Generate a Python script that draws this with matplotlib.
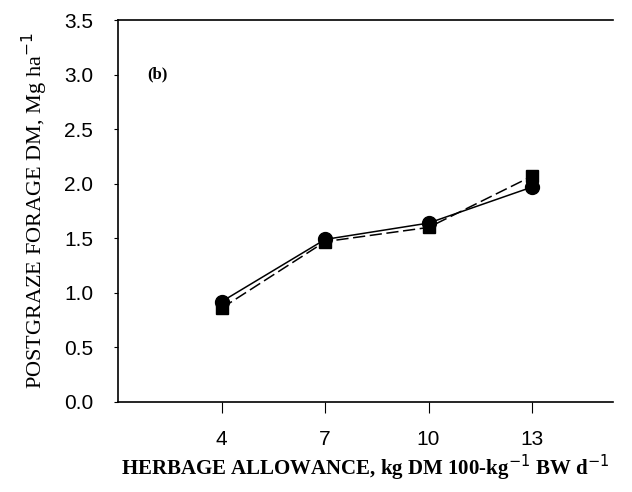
import matplotlib
matplotlib.use("Agg")
import matplotlib.pyplot as plt

# herbage allowance levels
allowance = [4, 7, 10, 13]
# postgraze forage DM, Mg/ha
circles = [0.92, 1.49, 1.64, 1.97]
squares = [0.86, 1.47, 1.60, 2.07]

fig = plt.figure(figsize=(6.32, 4.92), dpi=100)
ax = fig.add_axes([0.187, 0.183, 0.783, 0.776])

ax.plot(allowance, circles, 'k-', marker='o', markersize=10, lw=1.1)
ax.plot(allowance, squares, 'k--', marker='s', markersize=9, lw=1.1, dashes=(8, 3))

ax.set_xlim(1, 15.35)
ax.set_ylim(0, 3.5)
ax.set_xticks(allowance)
ax.set_yticks([0.0, 0.5, 1.0, 1.5, 2.0, 2.5, 3.0, 3.5])
ax.set_yticklabels(['0.0', '0.5', '1.0', '1.5', '2.0', '2.5', '3.0', '3.5'])

ax.spines['right'].set_visible(False)
for s in ['left', 'top', 'bottom']:
    ax.spines[s].set_linewidth(1.2)

ax.tick_params(axis='y', direction='out', length=3, labelsize=15, pad=15)
ax.tick_params(axis='x', direction='out', length=8, labelsize=15, pad=12)
for lab in ax.get_xticklabels() + ax.get_yticklabels():
    lab.set_family('Liberation Sans')

ax.text(1.85, 3.0, '(b)', fontsize=12, fontweight='bold', va='center',
        family='Liberation Serif')

ax.set_xlabel(r'HERBAGE ALLOWANCE, kg DM 100-kg$^{-1}$ BW d$^{-1}$',
              fontsize=15, fontweight='bold', family='Liberation Serif', labelpad=3)
ax.set_ylabel(r'POSTGRAZE FORAGE DM, Mg ha$^{-1}$',
              fontsize=16, family='Liberation Serif', labelpad=10)

fig.savefig('out.png', dpi=100)
